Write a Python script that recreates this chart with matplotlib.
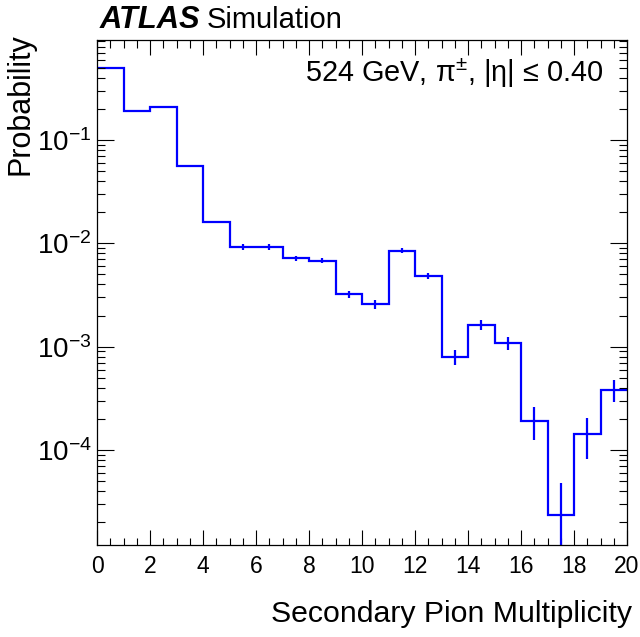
import numpy as np
import matplotlib
matplotlib.use("Agg")
import matplotlib.pyplot as plt
from matplotlib.ticker import LogLocator, MultipleLocator, NullFormatter

plt.rcParams["font.family"] = ["Liberation Sans", "DejaVu Sans"]
plt.rcParams["mathtext.fontset"] = "custom"
plt.rcParams["mathtext.rm"] = "Liberation Sans"
plt.rcParams["mathtext.it"] = "Liberation Sans:italic"
plt.rcParams["mathtext.bf"] = "Liberation Sans:bold"

# multiplicity bins 0..20, probability per bin and its uncertainty
edges = np.arange(0, 21)
prob = [0.494, 0.190, 0.210, 0.0556, 0.0161, 0.00914, 0.00914, 0.00716,
        0.00679, 0.00321, 0.00257, 0.00849, 0.00486, 0.000800, 0.00162,
        0.00108, 0.000192, 2.33e-5, 0.000142, 0.000383]
err = [0.002, 0.001, 0.001, 0.0005, 0.0004, 0.0006, 0.0006, 0.0004,
       0.00034, 0.00027, 0.00026, 0.00042, 0.00032, 0.000135, 0.00018,
       0.00016, 6.8e-5, 2.4e-5, 6.0e-5, 9.4e-5]

centers = (edges[:-1] + edges[1:]) / 2

fig = plt.figure(figsize=(6.4, 6.37), dpi=100)
ax = fig.add_axes([97 / 640, 1 - 545 / 637, 530 / 640, 505 / 637])

ax.stairs(prob, edges, baseline=None, color="#0000ff", linewidth=1.6)
ax.errorbar(centers, prob, yerr=err, fmt="none", ecolor="#0000ff", elinewidth=1.6)

ax.set_yscale("log")
ax.set_xlim(0, 20)
ax.set_ylim(1.2e-5, 0.93)

ax.xaxis.set_major_locator(MultipleLocator(2))
ax.xaxis.set_minor_locator(MultipleLocator(0.5))
ax.yaxis.set_major_locator(LogLocator(base=10))
ax.yaxis.set_minor_locator(LogLocator(base=10, subs=np.arange(2, 10)))
ax.yaxis.set_minor_formatter(NullFormatter())

ax.tick_params(which="both", direction="in", top=True, right=True, width=0.8)
ax.tick_params(axis="x", which="major", length=11, labelsize=16.5, pad=7)
ax.tick_params(axis="x", which="minor", length=5.4)
ax.tick_params(axis="y", which="major", length=12, labelsize=20, pad=4)
ax.tick_params(axis="y", which="minor", length=6)
for s in ax.spines.values():
    s.set_linewidth(0.9)

ax.set_xlabel("Secondary Pion Multiplicity", fontsize=21.8, loc="right")
ax.xaxis.set_label_coords(1.0094, -0.1366)
ax.xaxis.label.set_va("center")
ax.set_ylabel("Probability", fontsize=22, loc="top")
ax.yaxis.set_label_coords(-0.1434, 1.0139)
ax.yaxis.label.set_va("center")

ax.text(0.0057, 1.0238, "ATLAS", transform=ax.transAxes, fontsize=22.2,
        fontweight="bold", fontstyle="italic", va="baseline", ha="left")
ax.text(0.2075, 1.0238, "Simulation", transform=ax.transAxes, fontsize=21,
        va="baseline", ha="left")
ax.text(0.9547, 0.9168, "524 GeV, π$^{\\pm}$, |η| ≤ 0.40", transform=ax.transAxes,
        fontsize=20.8, va="baseline", ha="right")

fig.savefig("out.png", dpi=100)
